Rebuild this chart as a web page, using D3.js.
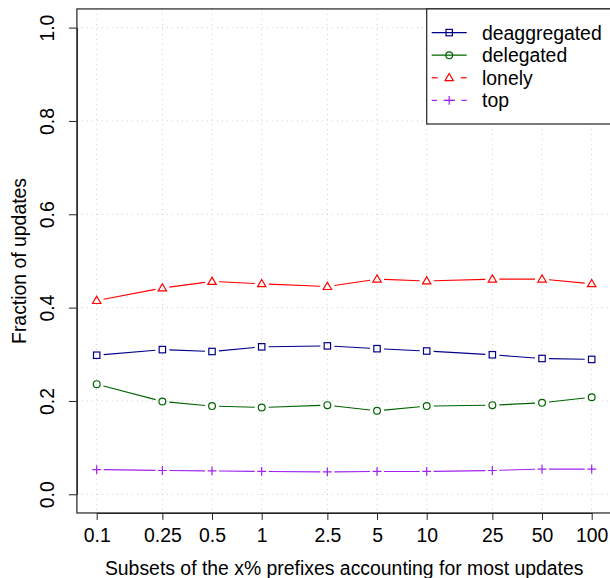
<!DOCTYPE html>
<html>
<head>
<meta charset="utf-8">
<script src="https://cdn.jsdelivr.net/npm/d3@7"></script>
<style>
  html, body { margin: 0; padding: 0; background: #fff; }
  svg { display: block; }
  text { font-family: "Liberation Sans", Arial, Helvetica, sans-serif; fill: #000; }
</style>
</head>
<body>
<svg id="chart" width="610" height="578"></svg>
<script>
// ---- data ----
const xValues = [0.1, 0.25, 0.5, 1, 2.5, 5, 10, 25, 50, 100];
const xTickLabels = ["0.1", "0.25", "0.5", "1", "2.5", "5", "10", "25", "50", "100"];
const yTickValues = [0, 0.2, 0.4, 0.6, 0.8, 1.0];
const yTickLabels = ["0.0", "0.2", "0.4", "0.6", "0.8", "1.0"];

const deaggregated = [0.298, 0.310, 0.306, 0.316, 0.318, 0.312, 0.307, 0.299, 0.291, 0.289];
const delegated    = [0.236, 0.199, 0.189, 0.186, 0.191, 0.179, 0.189, 0.191, 0.196, 0.208];
const lonely       = [0.415, 0.442, 0.456, 0.451, 0.445, 0.461, 0.457, 0.461, 0.461, 0.451];
const top_         = [0.053, 0.051, 0.050, 0.049, 0.048, 0.049, 0.049, 0.051, 0.054, 0.054];

const seriesNames = ["deaggregated", "delegated", "lonely", "top"];
const seriesValues = [deaggregated, delegated, lonely, top_];

const xTitle = "Subsets of the x% prefixes accounting for most updates";
const yTitle = "Fraction of updates";

// ---- styles ----
const styles = {
  deaggregated: { color: "#00008B", shape: "square",   legendDash: null },
  delegated:    { color: "#006400", shape: "circle",   legendDash: null },
  lonely:       { color: "#FF0000", shape: "triangle", legendDash: "5,4" },
  top:          { color: "#A020F0", shape: "plus",     legendDash: "5,4" }
};

const svg = d3.select("#chart");
const fontSize = 19.4;

const x = d3.scaleLog().domain([0.1, 100]).range([96.7, 591.7]);
const y = d3.scaleLinear().domain([0, 1]).range([494.3, 27.6]);

// plot region (R style 4% extension)
const xr = x.range(), yr = y.range();
const padX = (xr[1] - xr[0]) * 0.04, padY = (yr[0] - yr[1]) * 0.04;
const box = { x0: xr[0] - padX, x1: xr[1] + padX, y0: yr[1] - padY, y1: yr[0] + padY };

// grid
const grid = svg.append("g").attr("stroke", "#cfcfcf").attr("stroke-width", 1).attr("stroke-dasharray", "1,4");
grid.selectAll("line.v").data(xValues).enter().append("line")
  .attr("x1", d => x(d)).attr("x2", d => x(d)).attr("y1", box.y0).attr("y2", box.y1);
grid.selectAll("line.h").data(yTickValues).enter().append("line")
  .attr("y1", d => y(d)).attr("y2", d => y(d)).attr("x1", box.x0).attr("x2", box.x1);

// axes
const xAxis = d3.axisBottom(x).tickValues(xValues)
  .tickFormat((d, i) => xTickLabels[i]).tickSize(7).tickSizeOuter(0).tickPadding(8);
const gx = svg.append("g").attr("transform", `translate(0,${box.y1})`).call(xAxis);
gx.selectAll("text").style("font-size", fontSize + "px").attr("fill", "#000");
gx.selectAll("line, path").attr("stroke", "#222");

const yAxis = d3.axisLeft(y).tickValues(yTickValues)
  .tickFormat((d, i) => yTickLabels[i]).tickSize(8).tickSizeOuter(0).tickPadding(0);
const gy = svg.append("g").attr("transform", `translate(${box.x0},0)`).call(yAxis);
gy.selectAll("line, path").attr("stroke", "#222");
gy.selectAll("text")
  .style("font-size", fontSize + "px").attr("fill", "#000")
  .attr("text-anchor", "middle")
  .attr("x", 0).attr("y", 0).attr("dy", 0)
  .attr("transform", `translate(${47 - box.x0},0) rotate(-90)`)
  .attr("dominant-baseline", "central");

// box
svg.append("rect").attr("x", box.x0).attr("y", box.y0)
  .attr("width", box.x1 - box.x0).attr("height", box.y1 - box.y0)
  .attr("fill", "none").attr("stroke", "#222").attr("stroke-width", 1.2);

// titles
svg.append("text").attr("x", (box.x0 + box.x1) / 2).attr("y", 568)
  .attr("text-anchor", "middle").attr("dominant-baseline", "central")
  .style("font-size", fontSize + "px").text(xTitle);
svg.append("text")
  .attr("transform", `translate(19,${(box.y0 + box.y1) / 2}) rotate(-90)`)
  .attr("text-anchor", "middle").attr("dominant-baseline", "central")
  .style("font-size", fontSize + "px").text(yTitle);

// symbol drawer
function drawSymbol(g, shape, cx, cy, color) {
  if (shape === "square") {
    g.append("rect").attr("x", cx - 3.2).attr("y", cy - 3.2).attr("width", 6.4).attr("height", 6.4)
      .attr("fill", "none").attr("stroke", color).attr("stroke-width", 1.2);
  } else if (shape === "circle") {
    g.append("circle").attr("cx", cx).attr("cy", cy).attr("r", 3.4)
      .attr("fill", "none").attr("stroke", color).attr("stroke-width", 1.2);
  } else if (shape === "triangle") {
    const h = 7.2, w = 8.4;
    g.append("path").attr("d", `M${cx},${cy - h * 0.6}L${cx + w / 2},${cy + h * 0.4}L${cx - w / 2},${cy + h * 0.4}Z`)
      .attr("fill", "none").attr("stroke", color).attr("stroke-width", 1.2);
  } else if (shape === "plus") {
    const s = 4.4;
    g.append("path").attr("d", `M${cx - s},${cy}H${cx + s}M${cx},${cy - s}V${cy + s}`)
      .attr("fill", "none").attr("stroke", color).attr("stroke-width", 1.2);
  }
}

// series (type "b": segments with gaps around points)
const gap = 7;
seriesNames.forEach((name, si) => {
  const st = styles[name];
  const vals = seriesValues[si];
  const g = svg.append("g");
  for (let i = 0; i < vals.length - 1; i++) {
    const ax = x(xValues[i]), ay = y(vals[i]);
    const bx = x(xValues[i + 1]), by = y(vals[i + 1]);
    const dx = bx - ax, dy = by - ay, L = Math.hypot(dx, dy);
    const ux = dx / L, uy = dy / L;
    g.append("line")
      .attr("x1", ax + ux * gap).attr("y1", ay + uy * gap)
      .attr("x2", bx - ux * gap).attr("y2", by - uy * gap)
      .attr("stroke", st.color).attr("stroke-width", 1.1);
  }
  vals.forEach((v, i) => drawSymbol(g, st.shape, x(xValues[i]), y(v), st.color));
});

// legend
const lg = svg.append("g");
const lgX0 = 426.7, lgY0 = box.y0, lgY1 = 124;
lg.append("rect").attr("x", lgX0).attr("y", lgY0).attr("width", box.x1 - lgX0).attr("height", lgY1 - lgY0)
  .attr("fill", "#fff").attr("stroke", "#222").attr("stroke-width", 1.2);
seriesNames.forEach((name, i) => {
  const st = styles[name];
  const cy = 32.6 + i * 22.6;
  const row = lg.append("g");
  if (st.legendDash) {
    // short dashes around the symbol
    const dashes = st.shape === "triangle" ? [[431.7, 437.7], [460.7, 466.7]]
                                           : [[431.7, 437], [443.5, 455], [461.4, 466.7]];
    dashes.forEach(dsh => row.append("line").attr("x1", dsh[0]).attr("x2", dsh[1])
      .attr("y1", cy).attr("y2", cy).attr("stroke", st.color).attr("stroke-width", 1.2));
  } else {
    row.append("line").attr("x1", 431.7).attr("x2", 466.7).attr("y1", cy).attr("y2", cy)
      .attr("stroke", st.color).attr("stroke-width", 1.2);
  }
  drawSymbol(row, st.shape, 449.2, cy, st.color);
  row.append("text").attr("x", 482).attr("y", cy).attr("dominant-baseline", "central")
    .style("font-size", fontSize + "px").text(name);
});
</script>
</body>
</html>
